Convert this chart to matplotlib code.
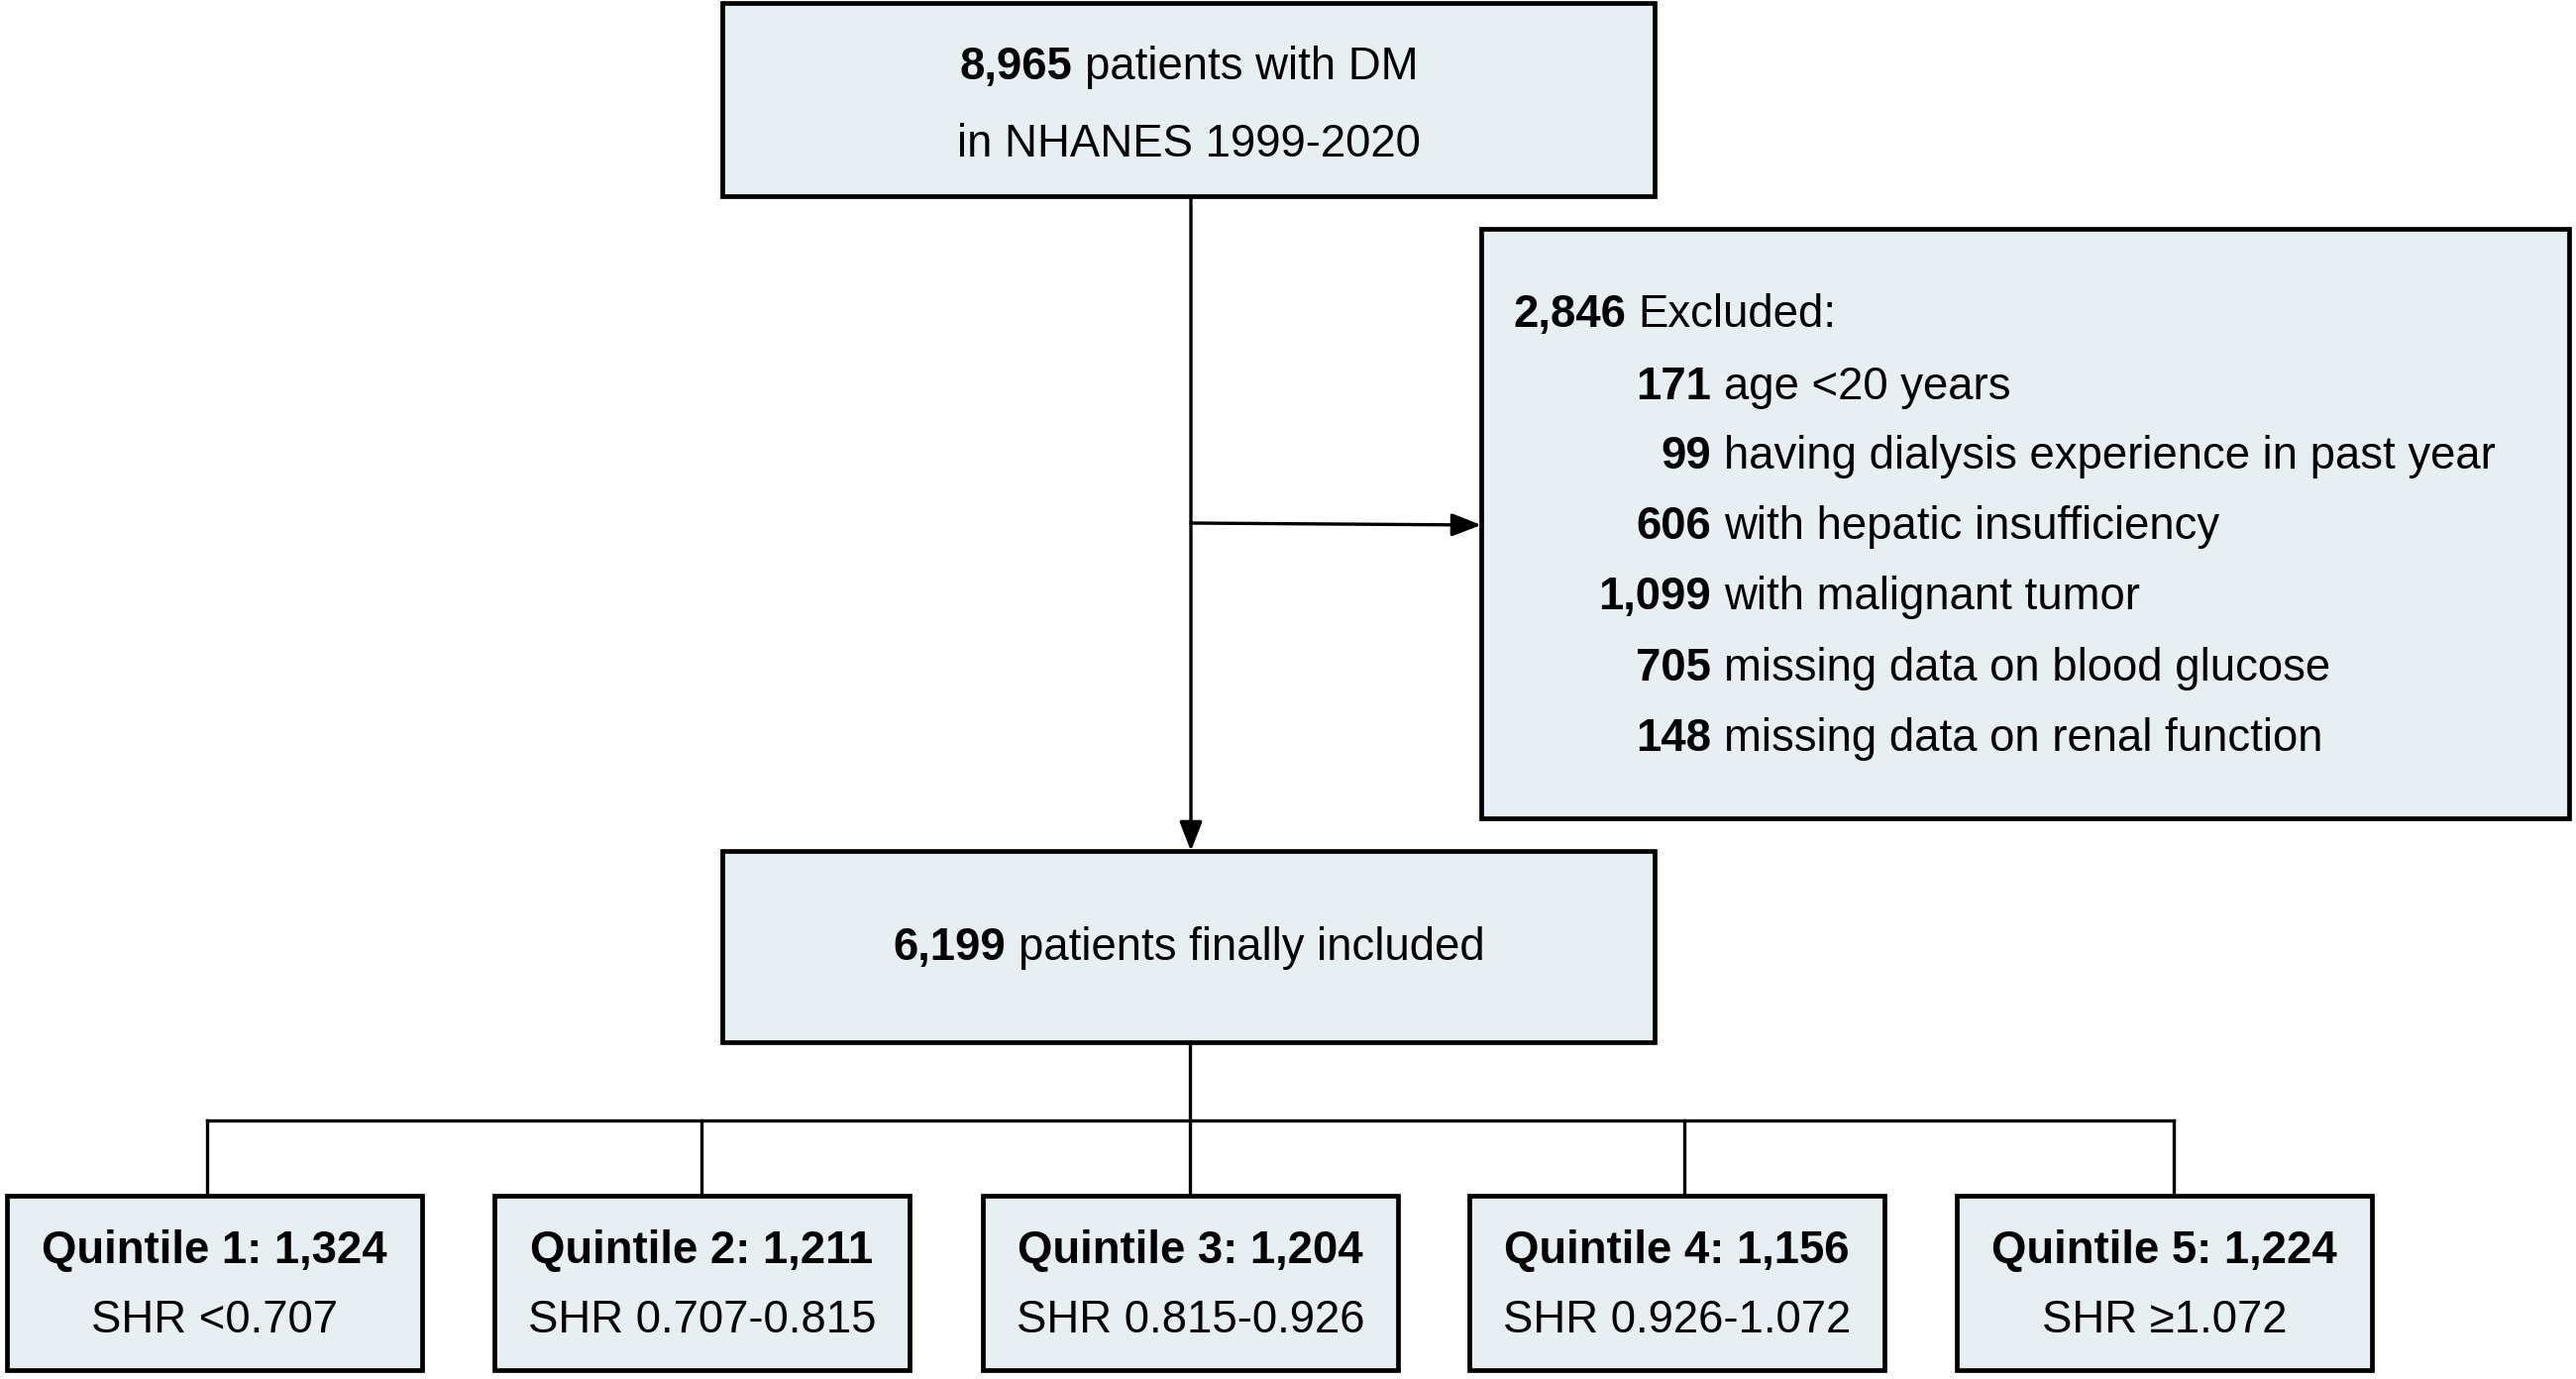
import matplotlib.pyplot as plt
from matplotlib.patches import Rectangle

plt.rcParams['font.family'] = ['Liberation Sans', 'DejaVu Sans']

# --- flowchart content ---
top_count = "8,965"
top_line1 = "patients with DM"
top_line2 = "in NHANES 1999-2020"

excluded_total = "2,846"
excluded_word = "Excluded:"
excl_counts = ["171", "99", "606", "1,099", "705", "148"]
excl_reasons = ["age <20 years",
                "having dialysis experience in past year",
                "with hepatic insufficiency",
                "with malignant tumor",
                "missing data on blood glucose",
                "missing data on renal function"]

final_count = "6,199"
final_text = "patients finally included"

quint_titles = ["Quintile 1: 1,324", "Quintile 2: 1,211", "Quintile 3: 1,204",
                "Quintile 4: 1,156", "Quintile 5: 1,224"]
quint_ranges = ["SHR <0.707", "SHR 0.707-0.815", "SHR 0.815-0.926",
                "SHR 0.926-1.072", "SHR \u22651.072"]

# --- figure in pixel coordinates ---
W, H = 2600, 1392
fig = plt.figure(figsize=(13, 6.96), dpi=200)
ax = fig.add_axes([0, 0, 1, 1])
ax.set_xlim(0, W)
ax.set_ylim(H, 0)
ax.axis("off")

FILL = "#E8EFF3"
FS = 16.4
BOX_LW = 1.7
LINE_LW = 1.2
renderer = fig.canvas.get_renderer()


def box(x0, y0, x1, y1):
    ax.add_patch(Rectangle((x0, y0), x1 - x0, y1 - y0, facecolor=FILL,
                           edgecolor="black", linewidth=BOX_LW, zorder=2))


def text_width(s, weight):
    t = ax.text(0, 0, s, fontsize=FS, fontweight=weight)
    bb = t.get_window_extent(renderer)
    t.remove()
    return bb.width


GAP = text_width("a a", "normal") - text_width("aa", "normal")


def bold_then_normal(x, y, bold, normal, ha="center"):
    wb = text_width(bold, "bold")
    wn = text_width(normal, "normal")
    total = wb + GAP + wn
    left = x - total / 2 if ha == "center" else x
    ax.text(left, y, bold, fontsize=FS, fontweight="bold", ha="left", va="center", zorder=3)
    ax.text(left + wb + GAP, y, normal, fontsize=FS, ha="left", va="center", zorder=3)


def arrow(x0, y0, x1, y1):
    ax.annotate("", xy=(x1, y1), xytext=(x0, y0),
                arrowprops=dict(arrowstyle="-|>,head_length=0.9,head_width=0.35",
                                color="black", lw=LINE_LW, shrinkA=0, shrinkB=0),
                zorder=1)


# top box
box(729, 3, 1670, 198)
bold_then_normal(1200, 68, top_count, top_line1)
ax.text(1200, 146, top_line2, fontsize=FS, ha="center", va="center", zorder=3)

# main vertical arrow and branch to exclusion box
arrow(1202, 198, 1202, 859)
arrow(1202, 528, 1495, 530)

# exclusion box
box(1495, 231, 2593, 826)
bold_then_normal(1527, 318, excluded_total, excluded_word, ha="left")
num_right = 1727
row_y = [391, 461, 532, 603, 675, 746]
for cnt, reason, yy in zip(excl_counts, excl_reasons, row_y):
    ax.text(num_right, yy, cnt, fontsize=FS, fontweight="bold", ha="right", va="center", zorder=3)
    ax.text(num_right + GAP, yy, reason, fontsize=FS, ha="left", va="center", zorder=3)

# final included box
box(729, 859, 1670, 1052)
bold_then_normal(1200, 957, final_count, final_text)

# tree to quintiles
drop_x = [209, 708, 1201, 1700, 2194]
box_left = [7, 499, 992, 1483, 1975]
box_w = 419
ax.plot([1201, 1201], [1052, 1131], color="black", lw=LINE_LW, zorder=1)
ax.plot([drop_x[0], drop_x[-1]], [1131, 1131], color="black", lw=LINE_LW,
        solid_capstyle="projecting", zorder=1)
for dx, bl, title, rng in zip(drop_x, box_left, quint_titles, quint_ranges):
    ax.plot([dx, dx], [1131, 1207], color="black", lw=LINE_LW, zorder=1)
    box(bl, 1207, bl + box_w, 1383)
    cx = bl + box_w / 2
    ax.text(cx, 1263, title, fontsize=FS, fontweight="bold", ha="center", va="center", zorder=3)
    ax.text(cx, 1333, rng, fontsize=FS, ha="center", va="center", zorder=3)

fig.savefig("out.png", dpi=200, facecolor="white")
